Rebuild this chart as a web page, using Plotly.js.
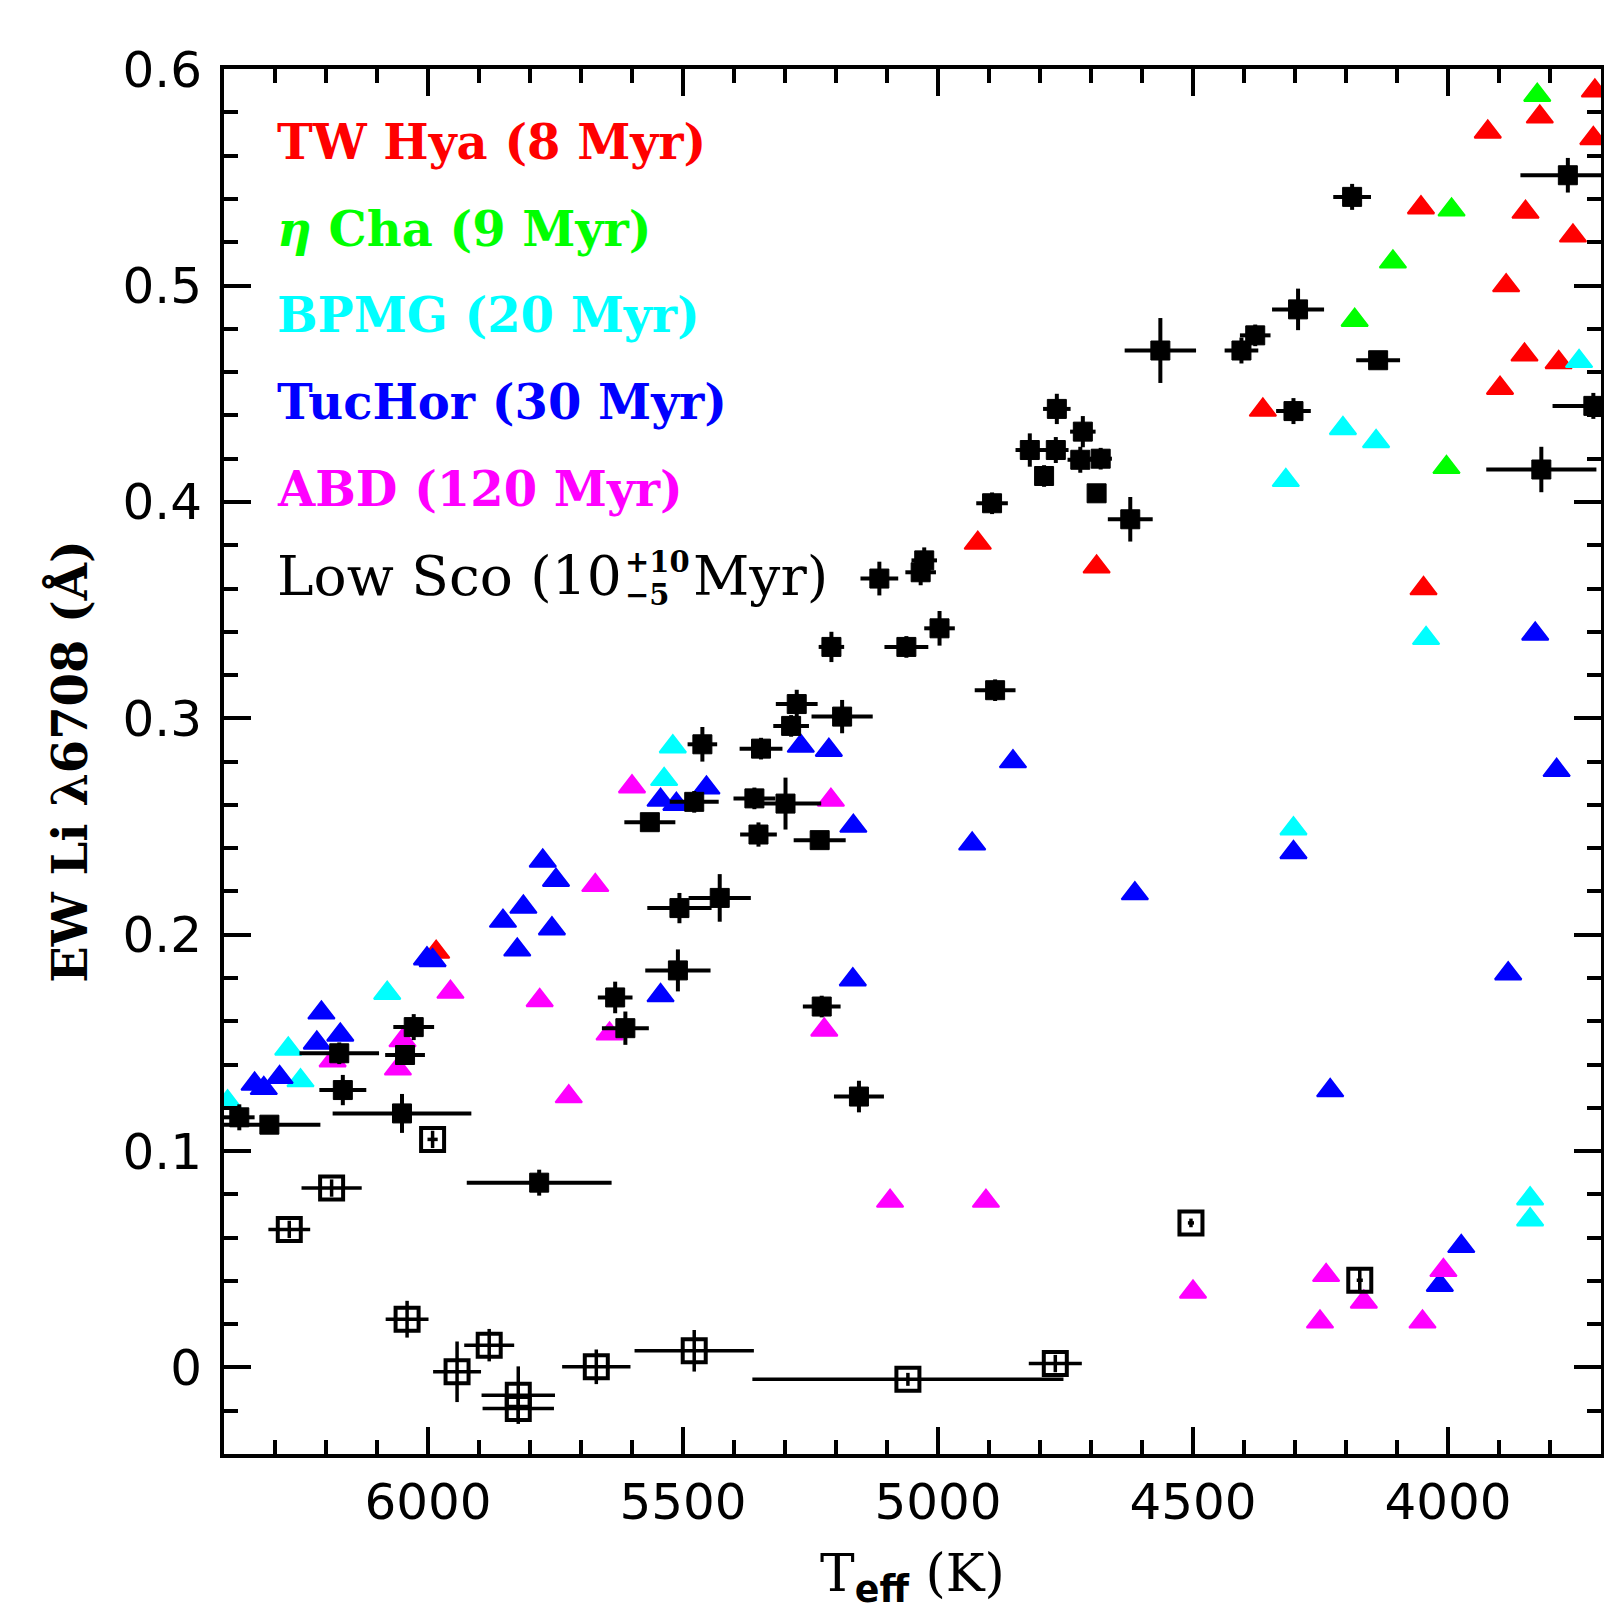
<!DOCTYPE html>
<html>
<head>
<meta charset="utf-8">
<script src="https://cdn.plot.ly/plotly-3.0.1.min.js"></script>
<style>html,body{margin:0;padding:0;background:#fff;}#chart{width:1604px;height:1611px;}</style>
</head>
<body>
<div id="chart"></div>
<script>
// ---------- data (Teff in K, EW Li in Angstrom) ----------
const twhya_teff = [3712, 3820, 3922, 3715, 4053, 3848, 3755, 3886, 3850, 3783, 3898, 4363, 4922, 4689, 4048, 5984];
const twhya_ew   = [0.590, 0.578, 0.571, 0.568, 0.536, 0.534, 0.523, 0.500, 0.468, 0.4645, 0.4526, 0.4425, 0.381, 0.370, 0.360, 0.192];

const etacha_teff = [3825, 3993, 4108, 4183, 4003];
const etacha_ew   = [0.588, 0.535, 0.511, 0.484, 0.416];

const bpmg_teff = [3743, 4206, 4141, 4318, 4043, 4303, 3839, 3839, 5520, 5537, 6080, 6274, 6250, 6393];
const bpmg_ew   = [0.465, 0.434, 0.428, 0.410, 0.337, 0.249, 0.078, 0.0683, 0.2869, 0.2718, 0.173, 0.1472, 0.1326, 0.1228];

const tuchor_teff = [3829, 4853, 4933, 4614, 4303, 3787, 3882, 4231, 4016, 3974, 5269, 5214, 5454, 5544, 5513, 5166,
                     5775, 5749, 5813, 5853, 5757, 5825, 6002, 5991, 5544, 5167, 6209, 6218, 6172, 6291, 6340, 6322];
const tuchor_ew   = [0.339, 0.280, 0.242, 0.219, 0.238, 0.276, 0.182, 0.128, 0.038, 0.056, 0.2872, 0.2853, 0.2679, 0.2622, 0.2603, 0.2502,
                     0.2341, 0.2252, 0.2128, 0.2063, 0.2028, 0.193, 0.1889, 0.1881, 0.1719, 0.1792, 0.1639, 0.150, 0.1537, 0.1341, 0.131, 0.129];

const abd_teff = [5600, 5210, 5672, 5956, 5781, 6050, 5644, 5223, 6187, 6059, 5724, 5094, 4906, 4500, 4239, 4251, 4165, 4050, 4009];
const abd_ew   = [0.2684, 0.2622, 0.2228, 0.1735, 0.1696, 0.1511, 0.1542, 0.156, 0.1418, 0.138, 0.1252, 0.0769, 0.0769, 0.0349, 0.0426, 0.0211, 0.0303, 0.0211, 0.0449];

const lowsco_teff = [4188, 3765, 4564, 4405, 4378, 4294, 4137, 4303, 3715, 3817, 4767, 4716, 4820, 4769, 4721, 4681, 4792, 4689,
                     4623, 4894, 5115, 5034, 5027, 4997, 5209, 5062, 4888, 5277, 5188, 5288, 5462, 5347, 5478, 5360, 5299,
                     5565, 5352, 5232, 5507, 5428, 5510, 5633, 5613, 5228, 5155, 6028, 6045, 6174, 6167, 6051, 6370, 6311, 5782];
const lowsco_ew   = [0.541, 0.551, 0.470, 0.470, 0.477, 0.489, 0.4655, 0.442, 0.4444, 0.415, 0.443, 0.4325, 0.424, 0.424, 0.4195, 0.420, 0.412, 0.404,
                     0.392, 0.3994, 0.3646, 0.3675, 0.373, 0.3416, 0.333, 0.333, 0.313, 0.3066, 0.3008, 0.2965, 0.288, 0.286, 0.2614, 0.263, 0.2606,
                     0.252, 0.2463, 0.2437, 0.2123, 0.217, 0.1835, 0.171, 0.1568, 0.1668, 0.1252, 0.1573, 0.1444, 0.1452, 0.1282, 0.1174, 0.1156, 0.1122, 0.0854];
const lowsco_teff_err = [37, 93, 70, 33, 30, 51, 43, 34, 80, 108, 27, 25, 28, 25, 25, 22, 0, 0,
                         44, 31, 37, 30, 25, 30, 25, 43, 40, 41, 60, 35, 29, 42, 48, 41, 70,
                         50, 36, 51, 63, 61, 64, 34, 46, 37, 49, 40, 39, 78, 46, 136, 30, 100, 142];
const lowsco_ew_err   = [0.006, 0.008, 0.015, 0.006, 0.005, 0.0096, 0.004, 0.006, 0.006, 0.0105, 0.007, 0.0072, 0.0077, 0.006, 0.006, 0.005, 0.005, 0,
                         0.0103, 0.005, 0.0078, 0.006, 0.006, 0.008, 0.007, 0.005, 0.005, 0.0066, 0.0077, 0.005, 0.008, 0.005, 0.005, 0.005, 0.012,
                         0.004, 0.0056, 0.004, 0.007, 0.011, 0.0097, 0.0073, 0.0077, 0.005, 0.0073, 0.006, 0.004, 0.005, 0.007, 0.009, 0.006, 0.004, 0.006];

const lowsco_open_teff = [5991, 6189, 6272, 6041, 5943, 5880, 5823, 5823, 5670, 5478, 5059, 4770, 4504, 4173];
const lowsco_open_ew   = [0.1054, 0.0829, 0.0638, 0.0223, -0.002, 0.0103, -0.0128, -0.019, 0.0003, 0.0077, -0.0055, 0.0018, 0.0668, 0.0403];
const lowsco_open_teff_err = [10, 59, 41, 42, 47, 49, 72, 70, 67, 117, 305, 52, 6, 6];
const lowsco_open_ew_err   = [0.004, 0.004, 0.004, 0.0085, 0.014, 0.0075, 0.0133, 0.005, 0.008, 0.0096, 0.003, 0.004, 0.002, 0.006];

const group_labels = ['TW Hya (8 Myr)', '<i>η</i> Cha (9 Myr)', 'BPMG (20 Myr)', 'TucHor (30 Myr)', 'ABD (120 Myr)'];
const group_colors = ['#ff0000', '#00ff00', '#00ffff', '#0000ff', '#ff00ff'];
const lowsco_label = ['Low Sco (10', '+10', '−5', 'Myr)'];
const x_title = 'T<sub><span style="font-family:DejaVu Sans;font-weight:bold">eff</span></sub> (K)';
const y_title = 'EW Li λ6708 (Å)';

// ---------- traces ----------
function triTrace(x, y, color, name) {
  return {type: 'scatter', mode: 'markers', x: x, y: y, name: name,
          marker: {symbol: 'triangle-up', size: 23, color: color, line: {color: color, width: 2}}};
}
const traces = [
  triTrace(twhya_teff, twhya_ew, group_colors[0], 'TW Hya'),
  triTrace(etacha_teff, etacha_ew, group_colors[1], 'eta Cha'),
  triTrace(bpmg_teff, bpmg_ew, group_colors[2], 'BPMG'),
  triTrace(tuchor_teff, tuchor_ew, group_colors[3], 'TucHor'),
  triTrace(abd_teff, abd_ew, group_colors[4], 'ABD'),
  {type: 'scatter', mode: 'markers', x: lowsco_open_teff, y: lowsco_open_ew, name: 'Low Sco (open)',
   marker: {symbol: 'square-open', size: 23, color: '#000', line: {color: '#000', width: 4}},
   error_x: {type: 'data', array: lowsco_open_teff_err, visible: true, thickness: 3.5, width: 0, color: '#000'},
   error_y: {type: 'data', array: lowsco_open_ew_err, visible: true, thickness: 3.5, width: 0, color: '#000'}},
  {type: 'scatter', mode: 'markers', x: lowsco_teff, y: lowsco_ew, name: 'Low Sco',
   marker: {symbol: 'square', size: 19, color: '#000', line: {color: '#000', width: 1}},
   error_x: {type: 'data', array: lowsco_teff_err, visible: true, thickness: 4, width: 0, color: '#000'},
   error_y: {type: 'data', array: lowsco_ew_err, visible: true, thickness: 4, width: 0, color: '#000'}}
];

// ---------- layout ----------
const legFont = 'DejaVu Serif';
const legSize = 48;
const legY = [0.9472, 0.8844, 0.8223, 0.7595, 0.6967];
const annotations = group_labels.map((t, i) => ({
  xref: 'paper', yref: 'paper', x: 0.0367, y: legY[i], xanchor: 'left', yanchor: 'middle',
  text: '<b>' + t + '</b>', showarrow: false,
  font: {family: legFont, size: legSize, color: group_colors[i]}
}));
annotations.push(
  {xref: 'paper', yref: 'paper', x: 0.0367, y: 0.6339, xanchor: 'left', yanchor: 'middle', showarrow: false,
   text: lowsco_label[0], font: {family: legFont, size: 55, color: '#000'}},
  {xref: 'paper', yref: 'paper', x: 0.2895, y: 0.6440, xanchor: 'left', yanchor: 'middle', showarrow: false,
   text: '<b>' + lowsco_label[1] + '</b>', font: {family: 'DejaVu Serif', size: 29, color: '#000'}},
  {xref: 'paper', yref: 'paper', x: 0.2895, y: 0.6205, xanchor: 'left', yanchor: 'middle', showarrow: false,
   text: '<b>' + lowsco_label[2] + '</b>', font: {family: 'DejaVu Serif', size: 29, color: '#000'}},
  {xref: 'paper', yref: 'paper', x: 0.3389, y: 0.6339, xanchor: 'left', yanchor: 'middle', showarrow: false,
   text: lowsco_label[3], font: {family: legFont, size: 55, color: '#000'}}
);

const axisCommon = {
  showline: true, linewidth: 4, linecolor: '#000', mirror: 'allticks',
  ticks: 'inside', ticklen: 27, tickwidth: 4, tickcolor: '#000',
  showgrid: false, zeroline: false,
  tickfont: {family: 'DejaVu Sans', size: 50, color: '#000'}
};

const layout = {
  width: 1604, height: 1611,
  margin: {l: 224, r: 3, t: 69, b: 157, pad: 0},
  paper_bgcolor: '#fff', plot_bgcolor: '#fff',
  showlegend: false,
  xaxis: Object.assign({}, axisCommon, {
    range: [6400, 3700], autorange: false, tick0: 0, dtick: 500, ticklabelstandoff: 1,
    minor: {dtick: 100, tick0: 0, ticklen: 14, tickwidth: 4, tickcolor: '#000', ticks: 'inside', showgrid: false},
    title: {text: x_title, font: {family: 'DejaVu Serif', size: 52, color: '#000'}, standoff: 26}
  }),
  yaxis: Object.assign({}, axisCommon, {
    range: [-0.04, 0.6001], autorange: false, tick0: 0, dtick: 0.1, ticklabelstandoff: 8,
    minor: {dtick: 0.02, tick0: 0, ticklen: 14, tickwidth: 4, tickcolor: '#000', ticks: 'inside', showgrid: false},
    title: {text: '<b>' + y_title + '</b>', font: {family: 'DejaVu Serif', size: 48, color: '#000'}, standoff: 21}
  }),
  annotations: annotations
};

Plotly.newPlot('chart', traces, layout, {staticPlot: true, displayModeBar: false});
</script>
</body>
</html>
